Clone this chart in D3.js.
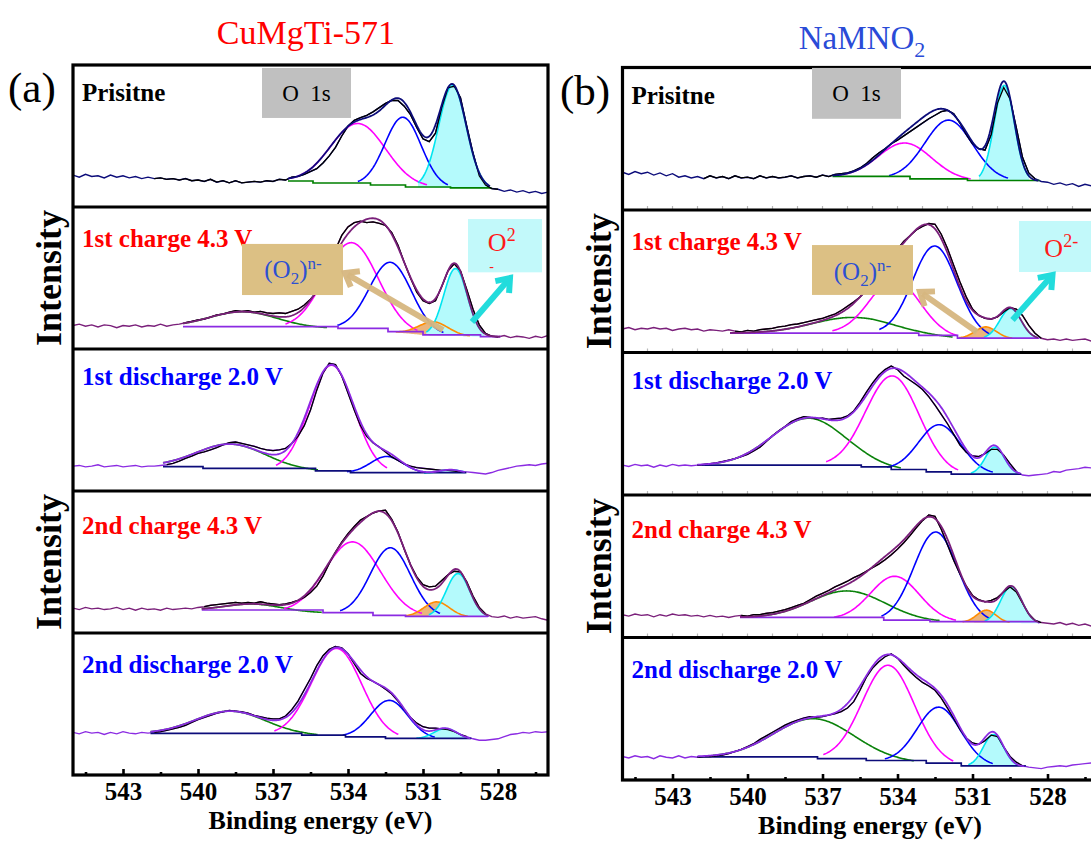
<!DOCTYPE html>
<html lang="en">
<head>
<meta charset="UTF-8">
<title>O 1s XPS - CuMgTi-571 vs NaMNO2</title>
<script src="https://d3js.org/d3.v7.min.js"></script>
<style>
  body { margin: 0; background: #fff; }
  svg text { font-family: "Times New Roman", "Liberation Serif", serif; }
</style>
</head>
<body>
<div id="chart"></div>
<script>
// Energy grid of the measured spectra: 545 eV down to 526 eV, 0.25 eV step
const energyStart = 545;
const energyStep = 0.25;
const tickValues = [543, 540, 537, 534, 531, 528];
const minorTickValues = [544.5, 541.5, 538.5, 535.5, 532.5, 529.5, 526.5];
const rowLabels = ["Prisitne", "1st charge 4.3 V", "1st discharge 2.0 V", "2nd charge 4.3 V", "2nd discharge 2.0 V"];

// ---- Panel (a) CuMgTi-571 : measured intensity (a.u.) ----
const dataA1 = [22.5,21,23,21.5,22,20.5,22.5,21,22,20.5,21.5,20,21,20,20.5,19.5,20,19,20,18.5,19,18,19.5,17.5,18.5,17,18.5,17,17.5,18,17.5,18.5,18,19.5,19,21,21.5,23,25,27,31,36,42,50,57,61,63,64.5,67,70,73,75,75,71,65,56,48,46,52,70,84,85,77,57,38,22,15.5,13,12.5,11,12,10.5,11.5,10,11,9.5,10.5];
const dataA2 = [16.5,17.5,16,17,15.5,17,16.5,15,16.5,16,17,15.5,16.5,16,17.5,16,17,17.5,18.5,19.5,20.5,21,22.5,24,24.5,26,27,26.5,27,26,26.5,25.5,25,25.5,25,26.5,28,31,35,40,48,58,70,80,86,89,90,89,89.5,88.5,87,82,73,61,50,40,34,32,34,44,55,60,55,42,28,17,11,9,8.5,9.5,8,9,8.5,7.5,9,8,9.5];
const dataA3 = [17.5,18,17,17.5,18.5,17,17.5,18,17,17.5,18,17,17.5,17.5,18,18.5,19.5,21,23,24.5,26.5,27.5,29,30.5,32.5,34,34.5,33.5,32.5,31.5,30,29,28.5,29,30,33.5,38.5,46,57,71,83,90,89,81,69,57,46,38.5,34,31,27.5,24,21.5,19,17.5,16.5,16,15.5,15,14.5,14.5,14,13.5,13.5,13,12.5,12,13,14.5,15.5,16.5,17.5,18,18.5,18,19,19.5];
const dataA4 = [17.5,16.5,18,17,17.5,16.5,17,18,16.5,17.5,16,17.5,16.5,17,16,17.5,16.5,17,17.5,17,18,18.5,19.5,20,20.5,21,21.5,21,21.5,21,22,21,20.5,20,20.5,21.5,23,25,28.5,33,40,49,57,64,70,75,79.5,82,84.5,86,86.5,80,71,59,48,39.5,34,32.5,33,37,41,43.5,43,36,26,18,13.5,11.5,11,12,10.5,11.5,10.5,11,11.5,10,9];
const dataA5 = [30,29,30.5,29.5,30,28.5,30,29,30.5,29.5,29,30,29.5,30,30.5,31.5,32.5,33.5,35,37,39,40.5,42,43.5,44.5,45.5,45,44.5,43.5,42,41,40,39.5,39.5,41.5,46,52,60,68,77,84,88.5,90.5,89.5,85.5,78.5,71.5,68,66,63.5,60.5,57,52,46,40.5,36.5,34,33,33,32.5,32,30.5,28.5,27,25.5,24.5,24.5,25,25.5,27,28.5,29,30,29.5,30.5,30,30.5];

// ---- Panel (b) NaMNO2 : measured intensity (a.u.) ----
const dataB1 = [26.5,25,27,25.5,26.5,24.5,26,24,25.5,23,24,22.5,23.5,22,24,22.5,23.5,22,24,22.5,23,22,24,22.5,23.5,22.5,23,24,22.5,23.5,24,23,24.5,23.5,25,25.5,26,27.5,29.5,32.5,36.5,40,43,46.5,49,52,55,58,61,64,66.5,69,70,67.5,61,53,46.5,43,42,53,75,86,78,58,37,26,22,20,19.5,18,19,17.5,18.5,16.5,18,17,17.5];
const dataB2 = [16.5,17.5,16,17,16.5,17.5,16.5,17,15.5,16.5,17,16,16.5,15,16,15.5,15,16,15,14.5,15.5,15,16,16.5,17,18,18.5,19.5,20,21,22,23,24,25.5,27,29.5,32.5,35.5,39,43.5,49,55,61,67,72.5,78,82,86,88.5,90.5,90,83,73,61,49.5,39,30.5,26,24,23.5,25,28.5,31.5,30.5,26,19,13.5,10,9,9.5,8.5,9.5,8.5,9,9.5,8,9];
const dataB3 = [21,20,21.5,20.5,21,19.5,21,20,21.5,20.5,21,20.5,21,21.5,22,22.5,23.5,24.5,25.5,27,28.5,31,33.5,37.5,41.5,45,48,51.5,53.5,55,54.5,53.5,54,53,53.5,54,55.5,59,65,72,78.5,84,88,90.5,88,83.5,80.5,77.5,74,69,63,56.5,50,42.5,35,30,27.5,27,29,32,32,28,22,16.5,14,13.5,14,14.5,15,16.5,16,17.5,18,18.5,19.5,19,20];
const dataB4 = [16,15,16.5,15.5,16,14.5,16,15,16.5,15.5,16,15,15.5,14.5,15.5,14.5,15,14,15,15.5,15,16,16,17,17.5,18.5,19.5,21,22.5,24,26.5,29,31,33,35.5,37.5,39.5,42,44,46.5,49,51.5,54.5,58,62,66.5,71.5,77,82,86,85,76,65,54,44.5,36,29.5,26.5,25,26,28,32,35.5,32,24,16.5,12,10.5,10,9.5,10.5,9,10,8.5,9.5,8,8.5];
const dataB5 = [16.5,15.5,17,16,16.5,15,17,16,15.5,17,15.5,16.5,16,16.5,16.5,17,17.5,18.5,20,21.5,23.5,25.5,28.5,31,33.5,36,38.5,40.5,42,43.5,44.5,44,44.5,45.5,46.5,48,50.5,55,63,72,78.5,83,86.5,88.5,85.5,80.5,76,72,68.5,66,63,57.5,50.5,43,35.5,29.5,26,25,27.5,31.5,30.5,23,16.5,12.5,10,9,8.5,8,9,9.5,10,9.5,10.5,11,11.5,12,11.5];

// energy span where the raw data is shown in black (eV, high -> low)
const spanA = [[541.8, 528.0], [540.6, 527.9], [541.4, 529.3], [539.85, 528.3], [541.9, 529.1]];
const spanB = [[541.85, 528.35], [540.7, 528.1], [542.0, 529.05], [540.3, 528.2], [542.0, 528.9]];

// background points [energy, intensity]
const bgA1 = [[536.4,18.3],[535.4,16.9],[533.1,15.5],[531.7,14.1],[529.9,13.4],[528.3,13.0]];
const bgA2 = [[540.6,15.7],[534.4,14.5],[532.4,12.2],[531.0,9.9],[528.7,8.7],[527.9,8.7]];
const bgA3 = [[541.4,17.1],[539.8,16.0],[535.3,14.2],[533.9,13.0],[529.3,12.4]];
const bgA4 = [[539.85,16.2],[535.0,14.3],[533.0,12.4],[531.7,11.7],[528.4,11.2]];
const bgA5 = [[541.9,29.3],[535.85,28.1],[534.1,26.9],[532.5,25.8],[529.1,25.1]];
const bgB1 = [[536.6,23.6],[533.5,21.9],[531.2,20.7],[528.35,20.3]];
const bgB2 = [[540.7,13.6],[535.0,13.6],[533.15,12.0],[531.6,10.1],[528.35,9.7]];
const bgB3 = [[542.0,20.9],[537.5,20.9],[535.45,19.7],[534.25,17.9],[532.85,16.2],[531.85,14.6],[529.05,14.6]];
const bgB4 = [[540.3,14.1],[534.55,12.2],[532.7,11.1],[528.35,9.9]];
const bgB5 = [[542.0,16.2],[537.2,15.0],[535.25,13.7],[532.85,11.8],[531.45,9.9],[528.9,9.4]];

// fitted components: [kind, center (eV), height, FWHM (eV)]
const peaksA1 = [["magenta",533.6,43,2.6],["blue",531.8,49,1.7],["cyan",529.82,72,1.3]];
const peaksA2 = [["green",538.2,11,3.2],["magenta",533.85,61,2.5],["blue",532.3,49,2.0],["orange",530.6,9.5,1.4],["cyan",529.7,47.5,1.1]];
const peaksA3 = [["green",538.7,17.5,3.3],["magenta",534.65,75,2.1],["blue",532.45,11.5,1.5],["cyan",529.9,2.5,1.0]];
const peaksA4 = [["green",537.8,5,2.6],["magenta",533.8,51,2.6],["blue",532.3,48,1.9],["orange",530.45,10.4,1.2],["cyan",529.6,30.5,1.1]];
const peaksA5 = [["green",538.7,16.3,3.3],["magenta",534.45,62,2.35],["blue",532.35,26.8,1.75],["cyan",530.1,7.4,1.1]];
const peaksB1 = [["magenta",533.7,25,2.5],["blue",531.95,42,2.25],["cyan",529.73,67,0.95]];
const peaksB2 = [["green",535.8,11,3.8],["magenta",534.1,38,2.36],["blue",532.5,63.5,2.1],["orange",530.47,8,1.0],["cyan",529.48,21,1.0]];
const peaksB3 = [["green",537.55,33,3.5],["magenta",534.2,65.7,2.5],["blue",532.3,34,2.0],["cyan",530.11,19,0.9]];
const peaksB4 = [["green",536.0,20,3.5],["magenta",534.1,31,2.3],["blue",532.47,63,2.05],["orange",530.44,8.7,0.9],["cyan",529.45,25.6,1.0]];
const peaksB5 = [["green",537.35,28,3.8],["magenta",534.37,67.5,2.45],["blue",532.33,40,2.05],["cyan",530.16,22.3,0.95]];

// assemble rows
const spectraA = [dataA1, dataA2, dataA3, dataA4, dataA5].map((d, i) => ({
  data: d, span: spanA[i], bg: [bgA1, bgA2, bgA3, bgA4, bgA5][i], peaks: [peaksA1, peaksA2, peaksA3, peaksA4, peaksA5][i]
}));
const spectraB = [dataB1, dataB2, dataB3, dataB4, dataB5].map((d, i) => ({
  data: d, span: spanB[i], bg: [bgB1, bgB2, bgB3, bgB4, bgB5][i], peaks: [peaksB1, peaksB2, peaksB3, peaksB4, peaksB5][i]
}));

// styles
const envColors = ["#0c0c7a", "#7a1f7a", "#8b2be2", "#7a1f7a", "#8b2be2"];
const bgColors = ["#008000", "#8b2be2", "#0c0c7a", "#8b2be2", "#0c0c7a"];
const labelColors = ["#000000", "#ff0000", "#0000ff", "#ff0000", "#0000ff"];
const labelOffsets = [36, 40, 36, 43, 40];
const compColors = { green: "#0a820a", magenta: "#ff00ff", blue: "#0000ff", cyan: "#00e5f0", orange: "#ff8c00" };

const svg = d3.select("#chart").append("svg").attr("width", 1091).attr("height", 841);

function gaussian(p, e) {
  const [, center, height, fwhm] = p;
  return height * Math.exp(-4 * Math.LN2 * (e - center) * (e - center) / (fwhm * fwhm));
}

function bgAt(bg, e) {
  if (e >= bg[0][0]) return bg[0][1];
  for (let i = 0; i < bg.length - 1; i++) {
    const [e1, v1] = bg[i], [e2, v2] = bg[i + 1];
    if (e <= e1 && e >= e2) return v1 + (v2 - v1) * (e1 - e) / (e1 - e2);
  }
  return bg[bg.length - 1][1];
}

function drawPanel(cfg, spectra) {
  const width = 475;
  const x = d3.scaleLinear().domain([545, 526]).range([cfg.left, cfg.left + width]);
  const clipId = "clip-" + cfg.name;
  svg.append("clipPath").attr("id", clipId)
    .append("rect").attr("x", cfg.left).attr("y", cfg.top).attr("width", width).attr("height", cfg.rowH * 5);

  const plot = svg.append("g").attr("clip-path", `url(#${clipId})`);

  spectra.forEach((s, r) => {
    const top = cfg.top + r * cfg.rowH;
    const y = d3.scaleLinear().domain([0, 100]).range([top + cfg.rowH, top]);
    const g = plot.append("g");
    const pts = s.data.map((v, i) => [energyStart - i * energyStep, v]);
    const line = d3.line().x(d => x(d[0])).y(d => y(d[1]));

    const eHi = s.bg[0][0], eLo = s.bg[s.bg.length - 1][0];

    // raw data, full range
    g.append("path").attr("d", line(pts)).attr("fill", "none")
      .attr("stroke", envColors[r]).attr("stroke-width", 1.4);

    // component curves (filled ones first)
    s.peaks.forEach(p => {
      const sigma = p[3] / 2.3548;
      const a = Math.min(eHi, p[1] + 2.5 * sigma), b = Math.max(eLo, p[1] - 2.5 * sigma);
      const grid = d3.range(a, b - 0.001, -0.04);
      const curve = grid.map(e => [e, bgAt(s.bg, e) + gaussian(p, e)]);
      if (p[0] === "cyan" || p[0] === "orange") {
        const area = d3.area().x(d => x(d[0])).y0(d => y(bgAt(s.bg, d[0]))).y1(d => y(d[1]));
        g.append("path").attr("d", area(curve))
          .attr("fill", p[0] === "cyan" ? "#b4fafc" : "#e8a865")
          .attr("fill-opacity", p[0] === "cyan" ? 1 : 0.85);
      }
      p.curve = curve;
    });
    s.peaks.forEach(p => {
      g.append("path").attr("d", line(p.curve)).attr("fill", "none")
        .attr("stroke", compColors[p[0]]).attr("stroke-width", 1.6);
    });

    // background (stepped)
    const bgLine = d3.line().x(d => x(d[0])).y(d => y(d[1])).curve(d3.curveStepAfter);
    g.append("path").attr("d", bgLine(s.bg)).attr("fill", "none")
      .attr("stroke", bgColors[r]).attr("stroke-width", 1.7);

    // raw data inside the fit span in black
    const inSpan = pts.filter(d => d[0] <= s.span[0] + 1e-6 && d[0] >= s.span[1] - 1e-6);
    g.append("path").attr("d", line(inSpan)).attr("fill", "none")
      .attr("stroke", "#000").attr("stroke-width", 1.3);

    // envelope = background + sum of components
    const envGrid = d3.range(eHi, eLo - 0.001, -0.04);
    const env = envGrid.map(e => [e, bgAt(s.bg, e) + d3.sum(s.peaks, p => gaussian(p, e))]);
    g.append("path").attr("d", line(env)).attr("fill", "none")
      .attr("stroke", envColors[r]).attr("stroke-width", 1.8);

    // row label
    svg.append("text").attr("x", cfg.left + 9).attr("y", top + labelOffsets[r])
      .attr("fill", labelColors[r]).style("font-size", "25px").style("font-weight", "bold")
      .text(rowLabels[r]);

    cfg.yScales.push(y);
  });

  // faint ticks on the dividers
  if (cfg.dividerTicks) {
    for (let r = 1; r < 5; r++) {
      const yy = cfg.top + r * cfg.rowH;
      d3.range(544, 526, -1).forEach(e => {
        svg.append("line").attr("x1", x(e)).attr("x2", x(e)).attr("y1", yy - 4).attr("y2", yy)
          .attr("stroke", "#b8b8b8").attr("stroke-width", 1.2);
      });
    }
  }

  // frame and dividers
  svg.append("rect").attr("x", cfg.left).attr("y", cfg.top).attr("width", width).attr("height", cfg.rowH * 5)
    .attr("fill", "none").attr("stroke", "#000").attr("stroke-width", 3.2);
  for (let r = 1; r < 5; r++) {
    const yy = cfg.top + r * cfg.rowH;
    svg.append("line").attr("x1", cfg.left).attr("x2", cfg.left + width).attr("y1", yy).attr("y2", yy)
      .attr("stroke", "#000").attr("stroke-width", 3.2);
  }

  // bottom axis with inward ticks
  const bottom = cfg.top + cfg.rowH * 5;
  const axG = svg.append("g").attr("transform", `translate(0,${bottom})`)
    .call(d3.axisBottom(x).tickValues(tickValues).tickSize(-6).tickPadding(7).tickFormat(d3.format("d")));
  axG.select(".domain").remove();
  axG.selectAll("line").attr("stroke-width", 2.6);
  axG.selectAll("text").style("font-size", "25px").style("font-weight", "bold")
    .style("font-family", '"Times New Roman", "Liberation Serif", serif').attr("fill", "#000");
  const minG = svg.append("g").attr("transform", `translate(0,${bottom})`)
    .call(d3.axisBottom(x).tickValues(minorTickValues).tickSize(-3).tickFormat(""));
  minG.select(".domain").remove();
  minG.selectAll("line").attr("stroke-width", 2.6);

  svg.append("text").attr("x", cfg.left + width / 2 + 10).attr("y", bottom + 54)
    .attr("text-anchor", "middle").style("font-size", "26px").style("font-weight", "bold")
    .text("Binding energy (eV)");

  // Intensity labels
  [1, 3].forEach(r => {
    const cy = cfg.top + r * cfg.rowH + cfg.rowH / 2;
    svg.append("text").attr("transform", `translate(${cfg.intensityX},${cy}) rotate(-90)`)
      .attr("text-anchor", "middle").style("font-size", "36px").style("font-weight", "bold")
      .text("Intensity");
  });

  cfg.x = x;
}

function arrow(x1, y1, x2, y2, color) {
  const ang = Math.atan2(y2 - y1, x2 - x1), L = 15, spread = 0.65;
  svg.append("line").attr("x1", x1).attr("y1", y1).attr("x2", x2 - 3 * Math.cos(ang)).attr("y2", y2 - 3 * Math.sin(ang))
    .attr("stroke", color).attr("stroke-width", 6);
  const p1 = [x2 - L * Math.cos(ang - spread), y2 - L * Math.sin(ang - spread)];
  const p2 = [x2 - L * Math.cos(ang + spread), y2 - L * Math.sin(ang + spread)];
  svg.append("path").attr("d", `M${p1[0]},${p1[1]}L${x2},${y2}L${p2[0]},${p2[1]}`)
    .attr("fill", "none").attr("stroke", color).attr("stroke-width", 6).attr("stroke-linejoin", "miter");
}

function annotate(cfg, o) {
  const x = cfg.x, y1 = cfg.yScales[1], y0 = cfg.yScales[0];
  // O 1s box
  svg.append("rect").attr("x", x(o.o1s[0])).attr("y", y0(o.o1s[2])).attr("width", x(o.o1s[1]) - x(o.o1s[0]))
    .attr("height", y0(o.o1s[3]) - y0(o.o1s[2])).attr("fill", "#c0c0c0");
  svg.append("text").attr("x", (x(o.o1s[0]) + x(o.o1s[1])) / 2).attr("y", (y0(o.o1s[2]) + y0(o.o1s[3])) / 2 + 8)
    .attr("text-anchor", "middle").style("font-size", "23px").style("white-space", "pre").text("O  1s");

  // (O2)n- box and arrow
  svg.append("rect").attr("x", x(o.tan[0])).attr("y", y1(o.tan[2])).attr("width", x(o.tan[1]) - x(o.tan[0]))
    .attr("height", y1(o.tan[3]) - y1(o.tan[2])).attr("fill", "#dcc084");
  const t = svg.append("text").attr("x", x(o.tanText[0])).attr("y", y1(o.tanText[1]))
    .attr("text-anchor", "middle").attr("fill", "#2d50d2").style("font-size", "25px");
  t.append("tspan").text("(O");
  t.append("tspan").attr("dy", 6).style("font-size", "17px").text("2");
  t.append("tspan").attr("dy", -6).text(")");
  t.append("tspan").attr("dy", -9).style("font-size", "17px").text("n-");
  arrow(x(o.tanArrow[0]), y1(o.tanArrow[1]), x(o.tanArrow[2]), y1(o.tanArrow[3]), "rgba(214,182,128,0.95)");

  // O2- box and arrow
  svg.append("rect").attr("x", x(o.cyan[0])).attr("y", y1(o.cyan[2])).attr("width", x(o.cyan[1]) - x(o.cyan[0]))
    .attr("height", y1(o.cyan[3]) - y1(o.cyan[2])).attr("fill", "#c2f9fa");
  const c = svg.append("text").attr("x", x(o.cyanText[0])).attr("y", y1(o.cyanText[1]))
    .attr("text-anchor", "middle").attr("fill", "#ff1a1a").style("font-size", "26px");
  c.append("tspan").text("O");
  c.append("tspan").attr("dy", -10).style("font-size", "18px").text(o.wrapMinus ? "2" : "2-");
  if (o.wrapMinus) {
    svg.append("text").attr("x", x(o.minus[0])).attr("y", y1(o.minus[1]))
      .attr("fill", "#ff1a1a").style("font-size", "14px").text("-");
  }
  arrow(x(o.cyanArrow[0]), y1(o.cyanArrow[1]), x(o.cyanArrow[2]), y1(o.cyanArrow[3]), "#22dcdc");
}

const panelA = { name: "a", left: 73, top: 65, rowH: 142, intensityX: 61, dividerTicks: false, yScales: [] };
const panelB = { name: "b", left: 622.5, top: 67.5, rowH: 142.5, intensityX: 611, dividerTicks: true, yScales: [] };

drawPanel(panelA, spectraA);
drawPanel(panelB, spectraB);

annotate(panelA, {
  o1s: [537.44, 533.88, 97.9, 62.7],
  tan: [538.24, 534.2, 74, 38], tanText: [536.2, 50],
  tanArrow: [530.2, 13.4, 534.12, 53.5],
  cyan: [529.2, 526.24, 91.5, 54], cyanText: [527.85, 69],
  wrapMinus: true, minus: [528.35, 55],
  cyanArrow: [529.04, 19, 527.52, 50]
});
annotate(panelB, {
  o1s: [537.42, 533.86, 99.7, 64],
  tan: [537.42, 533.38, 75.4, 40.4], tanText: [535.4, 50.9],
  tanArrow: [530.82, 14.4, 533.1, 42.5],
  cyan: [529.14, 525.4, 92.3, 56.5], cyanText: [527.45, 67.2],
  wrapMinus: false,
  cyanArrow: [529.4, 22.8, 527.8, 54.4]
});

// titles and panel letters
svg.append("text").attr("x", 306).attr("y", 44).attr("text-anchor", "middle")
  .attr("fill", "#ff0000").style("font-size", "34px").text("CuMgTi-571");
const tb = svg.append("text").attr("x", 862).attr("y", 49).attr("text-anchor", "middle")
  .attr("fill", "#2a4bd7").style("font-size", "33px");
tb.append("tspan").text("NaMNO");
tb.append("tspan").attr("dy", 8).style("font-size", "22px").text("2");

svg.append("text").attr("x", 8).attr("y", 102).style("font-size", "43px").text("(a)");
svg.append("text").attr("x", 560).attr("y", 105).style("font-size", "43px").text("(b)");
</script>
</body>
</html>
